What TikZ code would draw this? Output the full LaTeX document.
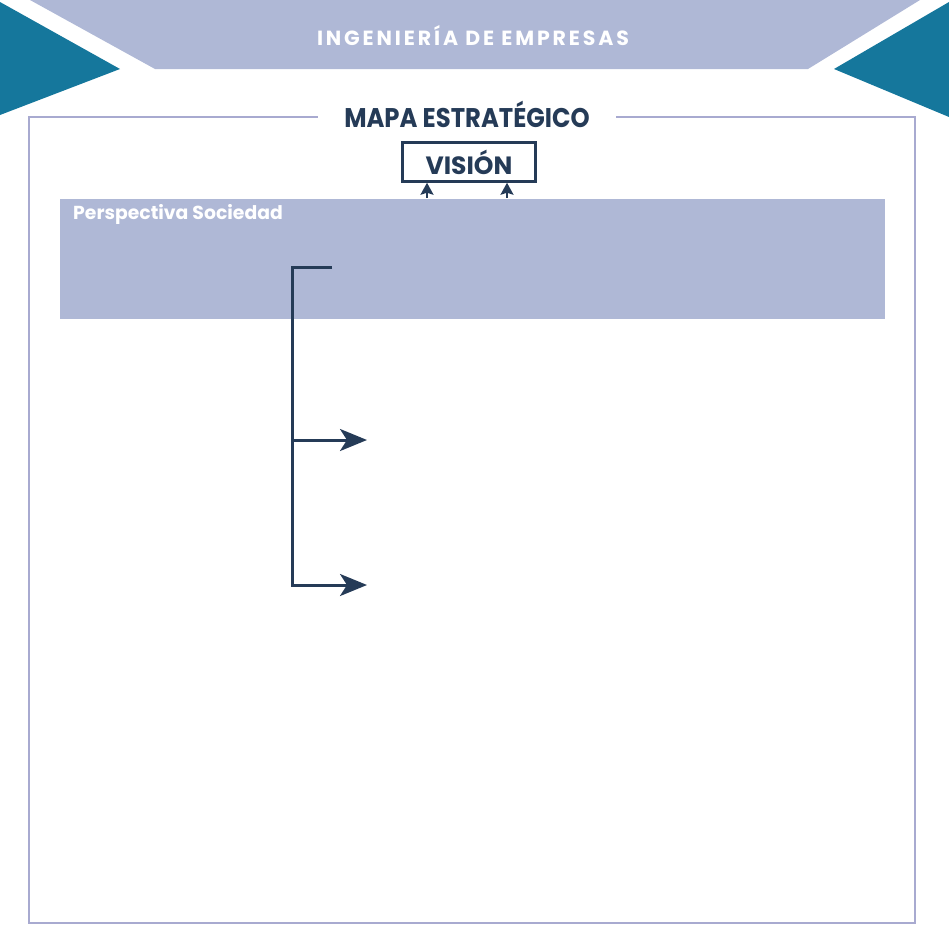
\documentclass[tikz,border=0pt]{standalone}
\usepackage{fontspec}
\setmainfont{Poppins}
\usetikzlibrary{arrows.meta,positioning}
\definecolor{bandblue}{HTML}{AFB8D6}
\definecolor{tealdark}{HTML}{15779C}
\definecolor{navy}{HTML}{253B57}
\definecolor{framelila}{HTML}{A8AAD0}
\begin{document}
\begin{tikzpicture}[x=1pt,y=-1pt,
  link/.style={navy,line width=3pt,line join=miter},
  bigtip/.style={-{Stealth[length=27pt,width=22pt,inset=7pt]}},
  smalltip/.style={navy,line width=2pt,-{Stealth[length=12pt,width=13pt,inset=2pt]}},
  headtext/.style={text=white,font=\bfseries\fontsize{20.5}{24}\selectfont\addfontfeature{LetterSpace=14}},
  boldtitle/.style={text=navy,font=\bfseries\fontsize{27}{30}\selectfont}]
\useasboundingbox (0,0) rectangle (949,929);
\fill[bandblue] (30,0) -- (920,0) -- (808,69) -- (155,69) -- cycle;
\fill[tealdark] (0,2) -- (120,69) -- (0,115) -- cycle;
\fill[tealdark] (949,2) -- (834,69) -- (949,117) -- cycle;
\node[headtext] (empresa) at (473,36) {INGENIERÍA DE EMPRESAS};
\draw[framelila,line width=2pt] (29,117) rectangle (915,923);
\node[boldtitle,fill=white,minimum width=332pt,xscale=0.9] (mapa) at (467,114) {MAPA ESTRATÉGICO};
\node[boldtitle,draw=navy,line width=2.5pt,minimum width=133pt,minimum height=39pt,
  inner sep=0pt,font=\bfseries\fontsize{25}{28}\selectfont] (vision) at (469,162) {VISIÓN};
\node[fill=bandblue,minimum width=825pt,minimum height=120pt,anchor=north west,inner sep=0pt] (soc) at (60,199) {};
\node[text=white,anchor=base west,inner sep=0pt,font=\bfseries\fontsize{18.8}{22}\selectfont] (soclabel) at (73,219) {Perspectiva Sociedad};
\coordinate (vA) at (427,198);
\coordinate (vB) at (507,198);
\draw[smalltip] (vA) -- (vA |- vision.south);
\draw[smalltip] (vB) -- (vB |- vision.south);
\coordinate (brtop) at (332,267);
\coordinate (spine) at (292,267);
\coordinate (objA) at (367,440);
\coordinate (objB) at (367,585);
\draw[link,bigtip] (brtop) -- (spine) |- (objB);
\draw[link,bigtip] (spine |- objA) -- (objA);
\end{tikzpicture}
\end{document}
